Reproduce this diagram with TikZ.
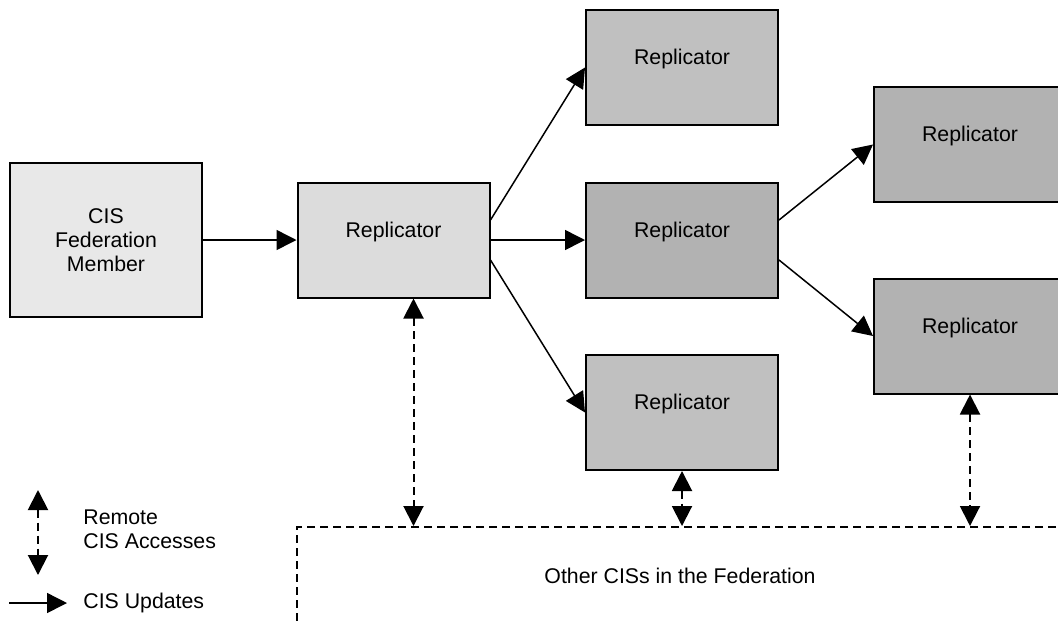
\documentclass[tikz,border=0pt]{standalone}
\usepackage{fontspec}
\setmainfont{Liberation Sans}
\usepackage{xcolor}
\usepackage{tikz}
\usetikzlibrary{arrows.meta}
\definecolor{memberfill}{RGB}{232,232,232}
\definecolor{firstfill}{RGB}{220,220,220}
\definecolor{lightrep}{RGB}{192,192,192}
\definecolor{darkrep}{RGB}{178,178,178}

\begin{document}
\begin{tikzpicture}[x=0.5pt, y=-0.5pt,
    every node/.style={font=\fontsize{10.65pt}{12pt}\selectfont, inner sep=0pt},
    member/.style={draw, line width=1pt, fill=memberfill, align=center,
      minimum width=96pt, minimum height=77pt},
    repl/.style={draw, line width=1pt, minimum width=96pt, minimum height=57.5pt,
      text height=8pt, text depth=11pt},
    others/.style={draw, line width=1pt, dash pattern=on 4pt off 2.5pt,
      minimum width=383pt, minimum height=49pt},
    upd/.style={line width=0.75pt, -{Triangle[length=10pt, width=10pt]}},
    acc/.style={line width=1pt, dash pattern=on 4pt off 2.5pt,
      {Triangle[length=10pt, width=10pt]}-{Triangle[length=10pt, width=10pt]}}]
    \useasboundingbox (0,0) rectangle (1058,622);
    \clip (0,0) rectangle (1058,622);
    \begin{scope}
    \node[member] (cis) at (106,240) {CIS\\Federation\\Member};
    \node[repl, fill=firstfill] (r1) at (393.5,240) {Replicator};
    \node[repl, fill=lightrep] (r2) at (682,67.5) {Replicator};
    \node[repl, fill=darkrep] (r3) at (682,240) {Replicator};
    \node[repl, fill=lightrep] (r4) at (682,412.5) {Replicator};
    \node[repl, fill=darkrep] (r5) at (970,144.5) {Replicator};
    \node[repl, fill=darkrep] (r6) at (970,336) {Replicator};
    \node[others] (fed) at (680,576) {Other CISs in the Federation};
  \end{scope}
    \draw[upd] (cis) -- (r1);
    \draw[upd] ([yshift=10pt]r1.east) -- (r2.west);
    \draw[upd] (r1) -- (r3);
    \draw[upd] ([yshift=-10pt]r1.east) -- (r4.west);
    \draw[upd] ([yshift=10pt]r3.east) -- (r5.west);
    \draw[upd] ([yshift=-10pt]r3.east) -- (r6.west);
    \draw[acc] ([xshift=10pt]r1.south) -- ([xshift=10pt]r1.south |- fed.north);
    \draw[acc] (r4.south) -- (r4.south |- fed.north);
    \draw[acc] (r6.south) -- (r6.south |- fed.north);
    \begin{scope}
    \coordinate (accTop) at (38,490);
    \coordinate (accBot) at (38,575);
    \draw[acc] (accTop) -- (accBot);
    \node[anchor=west, align=left] (accText) at (83,529) {Remote\\CIS Accesses};
    \coordinate (updL) at (9,603);
    \coordinate (updR) at (67,603);
    \draw[upd] (updL) -- (updR);
    \node[anchor=west] (updText) at (83,603) {CIS Updates};
  \end{scope}
\end{tikzpicture}
\end{document}
